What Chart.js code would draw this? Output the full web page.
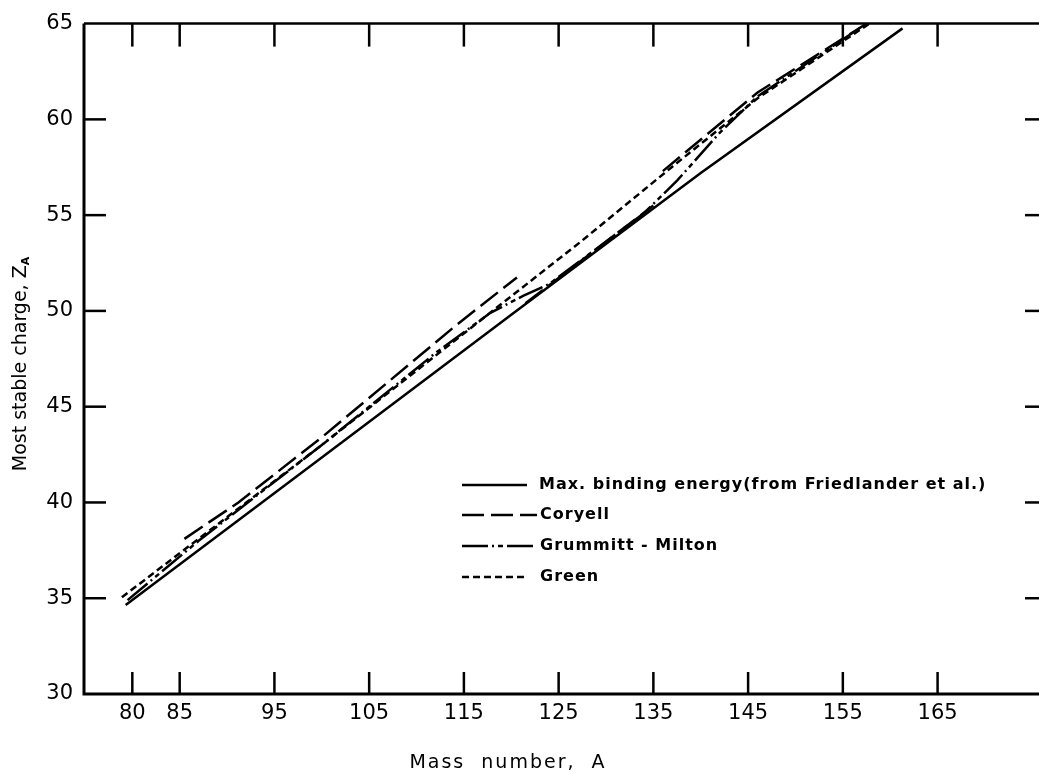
<!DOCTYPE html>
<html>
<head>
<meta charset="utf-8">
<script src="https://cdn.jsdelivr.net/npm/chart.js@4.4.0/dist/chart.umd.min.js"></script>
<style>
html,body{margin:0;padding:0;background:#fff;}
#wrap{width:1039px;height:774px;}
</style>
</head>
<body>
<div id="wrap"><canvas id="c" width="1039" height="774"></canvas></div>
<script>
// ---- data ----
const xTickValues = [80, 85, 95, 105, 115, 125, 135, 145, 155, 165];
const yTickValues = [30, 35, 40, 45, 50, 55, 60, 65];

const massSolid = [79.3, 100, 120, 140, 161.3];
const zSolid    = [34.65, 42.35, 49.8, 57.2, 64.75];

const massCoryell = [85.5, 91.2, 100, 114.3, 120.6, 120.7, 121.5, 135, 135.2, 136, 146, 157.5];
const zCoryell    = [38.1, 40.0, 43.4, 49.3, 51.75, null, 50.4, 55.5, null, 57.3, 61.4, 65.0];

const massGM = [79.5, 87, 100, 112, 117.8, 121.3, 124, 134, 137.5, 142, 146, 157.5];
const zGM    = [34.9, 38.0, 43.0, 47.8, 49.9, 50.8, 51.4, 55.1, 56.8, 59.3, 61.2, 65.0];

const massGreen = [78.9, 100, 120.6, 127.3, 136.8, 146, 157.8];
const zGreen    = [35.05, 43.0, 51.0, 53.6, 57.45, 61.1, 65.0];

const seriesLabels = ['Max. binding energy(from Friedlander et al.)', 'Coryell', 'Grummitt - Milton', 'Green'];

function pts(xs, ys){ return xs.map((x,i)=>({x:x, y:ys[i]})); }

const FONT = "'DejaVu Sans', sans-serif";

function setLS(ctx, v){ try { ctx.letterSpacing = v; } catch(e){} }

const framePlugin = {
  id: 'frame',
  afterDraw(chart){
    const ctx = chart.ctx;
    const ca = chart.chartArea;
    const xs = chart.scales.x, ys = chart.scales.y;
    ctx.save();
    ctx.strokeStyle = '#000';
    ctx.lineCap = 'butt';
    // frame lines
    ctx.lineWidth = 3;
    ctx.beginPath();
    ctx.moveTo(ca.left, ca.top); ctx.lineTo(ca.left, ca.bottom); ctx.lineTo(1039, ca.bottom);
    ctx.stroke();
    ctx.lineWidth = 2.5;
    ctx.beginPath();
    ctx.moveTo(ca.left, ca.top); ctx.lineTo(1039, ca.top);
    ctx.stroke();
    // inward ticks
    ctx.lineWidth = 2.5;
    xTickValues.forEach(v=>{
      const px = xs.getPixelForValue(v);
      ctx.beginPath(); ctx.moveTo(px, ca.bottom); ctx.lineTo(px, ca.bottom-22); ctx.stroke();
      ctx.beginPath(); ctx.moveTo(px, ca.top); ctx.lineTo(px, ca.top+23); ctx.stroke();
    });
    yTickValues.forEach(v=>{
      if (v===30 || v===65) return;
      const py = ys.getPixelForValue(v);
      ctx.beginPath(); ctx.moveTo(ca.left, py); ctx.lineTo(ca.left+22, py); ctx.stroke();
      ctx.beginPath(); ctx.moveTo(1039, py); ctx.lineTo(1025, py); ctx.stroke();
    });
    // axis titles
    ctx.fillStyle = '#000';
    ctx.font = "19px " + FONT;
    ctx.textAlign = 'center';
    ctx.textBaseline = 'middle';
    setLS(ctx, '2px');
    ctx.fillText('Mass  number,  A', 508, 763);
    setLS(ctx, '0px');
    // y title rotated
    ctx.save();
    ctx.translate(21, 364);
    ctx.rotate(-Math.PI/2);
    ctx.font = "19px " + FONT;
    const main = 'Most stable charge, Z';
    const wMain = ctx.measureText(main).width;
    ctx.font = "bold 11px " + FONT;
    const wSub = ctx.measureText('A').width;
    const total = wMain + wSub;
    ctx.textAlign = 'left';
    ctx.font = "19px " + FONT;
    ctx.fillText(main, -total/2, 0);
    ctx.font = "bold 11px " + FONT;
    ctx.fillText('A', -total/2 + wMain, 5);
    ctx.restore();
    // legend
    const rows = [485, 515, 546, 577];
    const lineEnds = [527, 537, 537, 527];
    const textX = [539, 540, 540, 540];
    chart.data.datasets.forEach((ds, i)=>{
      if (i >= 4) return;
      const y = rows[i];
      ctx.save();
      ctx.lineWidth = 2.5;
      ctx.setLineDash(ds.borderDash || []);
      ctx.beginPath(); ctx.moveTo(462, y); ctx.lineTo(lineEnds[i], y); ctx.stroke();
      ctx.restore();
      ctx.font = "bold 16px " + FONT;
      ctx.textAlign = 'left';
      ctx.textBaseline = 'middle';
      setLS(ctx, '1px');
      ctx.fillText(seriesLabels[i], textX[i], y);
      setLS(ctx, '0px');
    });
    ctx.restore();
  }
};

const common = {showLine:true, pointRadius:0, borderColor:'#000', borderWidth:2.5, fill:false, tension:0, spanGaps:false};

new Chart(document.getElementById('c'), {
  type: 'scatter',
  data: {
    datasets: [
      Object.assign({label: seriesLabels[0], data: pts(massSolid, zSolid), borderDash: []}, common),
      Object.assign({label: seriesLabels[1], data: pts(massCoryell, zCoryell), borderDash: [22, 7]}, common),
      Object.assign({label: seriesLabels[2], data: pts(massGM, zGM), borderDash: [26, 4, 2, 4, 5, 4]}, common),
      Object.assign({label: seriesLabels[3], data: pts(massGreen, zGreen), borderDash: [7, 4]}, common)
    ]
  },
  options: {
    responsive: false,
    animation: false,
    devicePixelRatio: 1,
    layout: {padding: {left: 0, top: 17, right: 1, bottom: 0}},
    plugins: {legend: {display: false}, tooltip: {enabled: false}},
    scales: {
      x: {
        type: 'linear', min: 74.9, max: 175.6,
        grid: {display: false, drawTicks: false},
        border: {display: false},
        afterBuildTicks: s => { s.ticks = xTickValues.map(v=>({value:v})); },
        afterFit: s => { s.height = 80; },
        ticks: {autoSkip: false, maxRotation: 0, padding: 7, color: '#000', font: {family: FONT, size: 21}, callback: v => String(v)}
      },
      y: {
        type: 'linear', min: 30, max: 65,
        grid: {display: false, drawTicks: false},
        border: {display: false},
        afterBuildTicks: s => { s.ticks = yTickValues.map(v=>({value:v})); },
        afterFit: s => { s.width = 84; },
        ticks: {autoSkip: false, padding: 11, color: '#000', font: {family: FONT, size: 21}, callback: v => String(v)}
      }
    }
  },
  plugins: [framePlugin]
});
</script>
</body>
</html>
